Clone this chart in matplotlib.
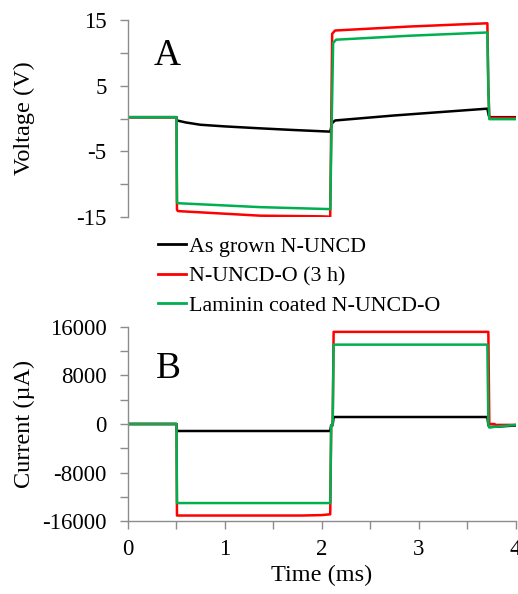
import matplotlib
matplotlib.use("Agg")
import matplotlib.pyplot as plt
from matplotlib.lines import Line2D

plt.rcParams['font.family'] = ['Liberation Serif', 'DejaVu Serif']

# ---- Voltage traces (time in ms, voltage in V) ----
v_black_t = [0, 0.505, 0.51, 0.6, 0.75, 1.0, 1.37, 1.71, 2.09, 2.11, 2.14, 2.74, 3.2, 3.71, 3.725, 3.74, 4.0]
v_black_v = [0.2, 0.2, -0.3, -0.6, -0.95, -1.2, -1.5, -1.75, -2.0, -0.7, -0.3, 0.45, 0.95, 1.5, 0.4, 0.2, 0.2]

v_red_t = [0, 0.505, 0.51, 0.52, 1.37, 2.0, 2.09, 2.11, 2.14, 2.9, 3.71, 3.72, 3.73, 4.0]
v_red_v = [0.2, 0.2, -13.9, -14.1, -14.8, -14.9, -14.95, 12.9, 13.4, 14.0, 14.5, 5.0, 0.1, 0.1]

v_green_t = [0, 0.505, 0.51, 0.52, 1.37, 2.09, 2.10, 2.12, 2.15, 2.9, 3.71, 3.72, 3.73, 4.0]
v_green_v = [0.2, 0.2, -12.7, -12.9, -13.5, -13.8, -5.0, 11.5, 12.0, 12.6, 13.1, 4.0, -0.1, -0.1]

# ---- Current traces (time in ms, current in uA) ----
i_black_t = [0, 0.505, 0.51, 2.09, 2.10, 2.115, 2.125, 3.71, 3.72, 3.73, 4.0]
i_black_v = [0, 0, -1150, -1150, -200, -200, 1150, 1150, -150, -500, -250]

i_red_t = [0, 0.505, 0.51, 1.8, 2.0, 2.09, 2.10, 2.115, 2.125, 3.72, 3.73, 3.78, 3.80, 4.0]
i_red_v = [0, 0, -15050, -15050, -14980, -14850, -200, -200, 15150, 15150, 0, 0, -150, -150]

i_green_t = [0, 0.505, 0.51, 2.09, 2.10, 2.115, 2.125, 3.71, 3.72, 3.73, 4.0]
i_green_v = [0, 0, -13000, -13000, -200, -200, 13050, 13050, -100, -550, -150]

labels = ["As grown N-UNCD", "N-UNCD-O (3 h)", "Laminin coated N-UNCD-O"]
colors = ["#000000", "#ff0000", "#00b050"]

v_ticks = [-15, -10, -5, 0, 5, 10, 15]
v_ticklabels = ["-15", "", "-5", "", "5", "", "15"]
i_ticks = [-16000, -12000, -8000, -4000, 0, 4000, 8000, 12000, 16000]
i_ticklabels = ["-16000", "", "-8000", "", "0", "", "8000", "", "16000"]
t_ticks = [0, 0.5, 1, 1.5, 2, 2.5, 3, 3.5, 4]
t_ticklabels = ["0", "", "1", "", "2", "", "3", "", "4"]

W, H = 518, 594
fig = plt.figure(figsize=(W / 100, H / 100), dpi=100)

def frac_box(left, top, right, bottom):
    return [left / W, 1 - bottom / H, (right - left) / W, (bottom - top) / H]

ax1 = fig.add_axes(frac_box(127.5, 20, 515.5, 217))
ax2 = fig.add_axes(frac_box(127.5, 326.7, 515.5, 521.3))

spine_col = "#8c8c8c"
tick_fs = 16.5
lab_fs = 17.5
lw = 1.8

for t, v, c in [(v_black_t, v_black_v, colors[0]), (v_red_t, v_red_v, colors[1]), (v_green_t, v_green_v, colors[2])]:
    ax1.plot(t, v, color=c, lw=lw, solid_joinstyle="round")
for t, v, c in [(i_black_t, i_black_v, colors[0]), (i_red_t, i_red_v, colors[1]), (i_green_t, i_green_v, colors[2])]:
    ax2.plot(t, v, color=c, lw=lw, solid_joinstyle="round")

for ax in (ax1, ax2):
    ax.set_xlim(0, 4)
    ax.spines["top"].set_visible(False)
    ax.spines["right"].set_visible(False)
    for s in ("left", "bottom"):
        ax.spines[s].set_color(spine_col)
        ax.spines[s].set_linewidth(1.0)
    ax.tick_params(direction="out", length=6, width=1.0, color=spine_col,
                   labelsize=tick_fs, labelcolor="black")
    ax.tick_params(axis="y", pad=9)
    ax.tick_params(axis="x", pad=7)

ax1.set_ylim(-15, 15)
ax1.spines["bottom"].set_visible(False)
ax1.set_xticks([])
ax1.set_yticks(v_ticks)
ax1.set_yticklabels(v_ticklabels)
ax1.set_ylabel("Voltage (V)", fontsize=lab_fs, va="center")
ax1.yaxis.set_label_coords((24 - 127.5) / 388, 0.5)
ax1.text(0.067, 0.772, "A", transform=ax1.transAxes, fontsize=27, va="baseline", ha="left")

ax2.set_ylim(-16000, 16000)
ax2.set_yticks(i_ticks)
ax2.set_yticklabels(i_ticklabels)
ax2.set_xticks(t_ticks)
ax2.set_xticklabels(t_ticklabels)
ax2.set_ylabel("Current (µA)", fontsize=lab_fs, va="center")
ax2.yaxis.set_label_coords((24.5 - 127.5) / 388, 0.5)
ax2.set_xlabel("Time (ms)", fontsize=lab_fs, labelpad=3)
ax2.text(0.072, 0.736, "B", transform=ax2.transAxes, fontsize=27, va="baseline", ha="left")

handles = [Line2D([], [], color=c, lw=2.0) for c in colors]
fig.legend(handles, labels, loc="upper left", bbox_to_anchor=(143 / W, 1 - 221 / H),
           frameon=False, fontsize=15.8, handlelength=1.25, handletextpad=0.15,
           labelspacing=0.42, borderpad=0.2)

fig.savefig("out.png", dpi=100)
